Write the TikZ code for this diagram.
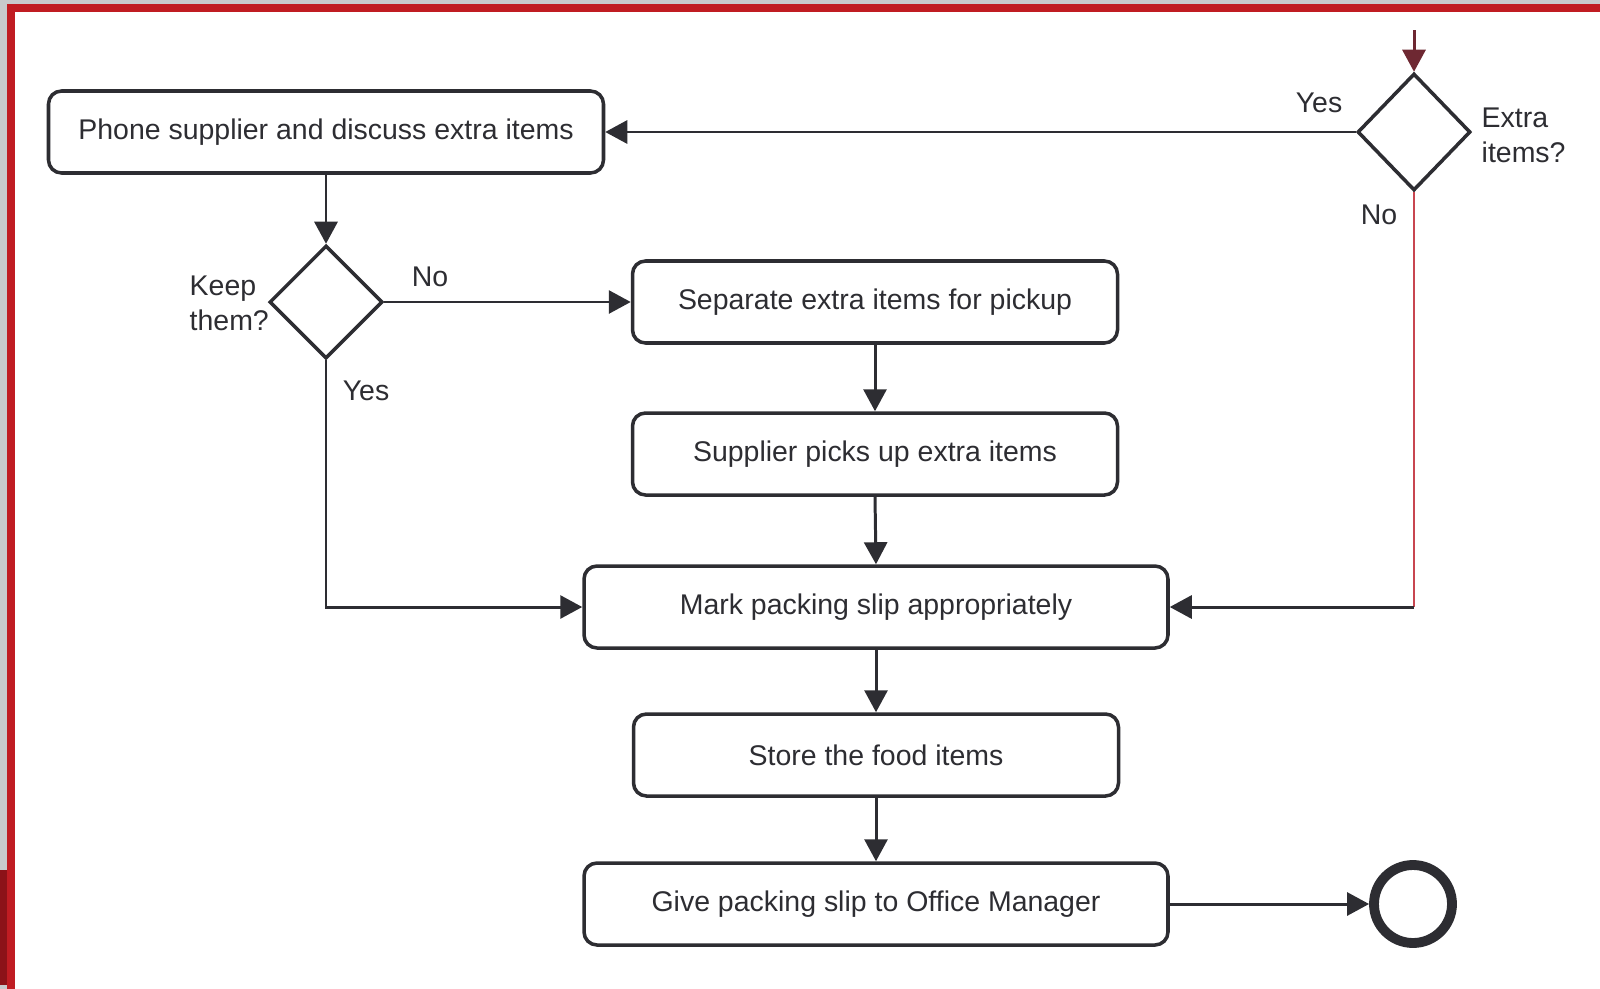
\documentclass[tikz,border=0pt]{standalone}
\usepackage{fontspec}
\setmainfont{Liberation Sans}
\usetikzlibrary{arrows.meta,shapes.geometric}
\definecolor{framered}{RGB}{192,28,34}
\definecolor{framedark}{RGB}{140,18,24}
\definecolor{framegray}{RGB}{200,202,204}
\definecolor{ink}{RGB}{45,45,50}
\definecolor{noline}{RGB}{200,70,80}
\definecolor{inline}{RGB}{110,40,50}

\begin{document}
\begin{tikzpicture}[x=0.1mm,y=-0.1mm,
		font=\fontsize{8.1pt}{10pt}\selectfont,
		act/.style={draw=ink, line width=1pt, rounded corners=1.3mm, minimum height=8.2mm, inner sep=0pt, text=ink},
		decision/.style={draw=ink, line width=1pt, diamond, minimum width=11.3mm, minimum height=11.3mm, inner sep=0pt},
		flow/.style={draw=ink, line width=0.85pt, -{Triangle[length=2.2mm,width=2.3mm]}},
		lbl/.style={inner sep=0pt, align=left, text=ink}]
			% frame
			\fill[white] (0,0) rectangle (1600,989);
			\fill[framegray] (0,0) rectangle (1600,4);
			\fill[framegray] (0,0) rectangle (7,989);
			\fill[framered] (7,4) rectangle (1600,12);
			\fill[framered] (7,4) rectangle (15,989);
			\fill[framedark] (0,870) rectangle (7,985);
			\useasboundingbox (0,0) rectangle (1600,989);

			\node[act, minimum width=55.5mm] at (326,132) (phone){Phone supplier and discuss extra items};
			\node[decision] at (326,302) (keep){};
			\node[act, minimum width=48.5mm] at (875,302) (separate){Separate extra items for pickup};
			\node[act, minimum width=48.5mm] at (875,454) (pickup){Supplier picks up extra items};
			\node[act, minimum width=58.4mm] at (876,607) (mark){Mark packing slip appropriately};
			\node[act, minimum width=48.5mm] at (876,755) (store){Store the food items};
			\node[act, minimum width=58.4mm] at (876,904) (give){Give packing slip to Office Manager};
			\node[decision, minimum height=11.7mm] at (1414,132) (extra){};
			\node[circle, draw=ink, line width=2.8pt, minimum size=7.8mm, inner sep=0pt] at (1413,904) (done){};

			\node[lbl, anchor=west] at (189,303) (keeptxt){Keep\\them?};
			\node[lbl] at (430,277) (keepno){No};
			\node[lbl] at (366,391) (keepyes){Yes};
			\node[lbl] at (1319,103) (extrayes){Yes};
			\node[lbl, anchor=west] at (1481,135) (extratxt){Extra\\items?};
			\node[lbl] at (1379,215) (extrano){No};

			\coordinate (start) at (1414,30);
			\coordinate (bend) at (extra.south |- mark.east);
			\draw[flow, draw=inline] (start) -- (extra.north);
			\draw[flow] (extra.west) -- (phone.east);
			\draw[flow] (phone.south) -- (keep.north);
			\draw[flow] (keep.east) -- (separate.west);
			\draw[flow] (keep.south) |- (mark.west);
			\draw[flow] (separate.south) -- (pickup.north);
			\draw[flow] (pickup.south) -- (mark.north);
			\draw[flow] (mark.south) -- (store.north);
			\draw[flow] (store.south) -- (give.north);
			\draw[draw=noline, line width=0.7pt] (extra.south) -- (bend);
			\draw[flow] (bend) -- (mark.east);
			\draw[flow] (give.east) -- (done.west);
		\end{tikzpicture}
\end{document}
